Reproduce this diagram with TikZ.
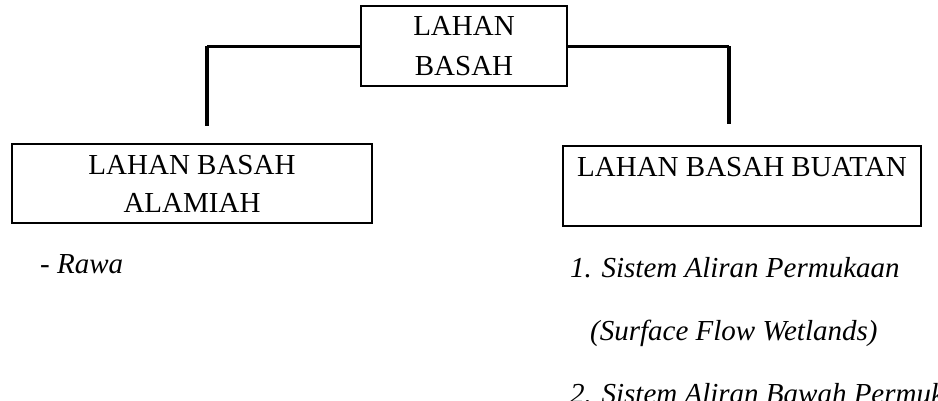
\documentclass[tikz,border=0pt]{standalone}
\usepackage{fontspec}
\setmainfont{Liberation Serif}
\begin{document}
\begin{tikzpicture}[x=1pt,y=-1pt,
  box/.style={draw=black, line width=2.5pt, inner sep=0pt, align=center,
    font=\fontsize{29}{38}\selectfont},
  conn/.style={draw=black, line width=3.5pt},
  item/.style={inner sep=0pt, anchor=base west, font=\fontsize{29}{34}\selectfont\itshape}]
\clip (0,0) rectangle (938,400);
\fill[white] (0,0) rectangle (938,400);
% boxes
\node[box, minimum width=206, minimum height=80, font=\fontsize{29}{40}\selectfont] (top) at (464,46) {LAHAN\\BASAH};
\node[box, minimum width=360, minimum height=79] (left) at (192,183.5) {LAHAN BASAH\\ALAMIAH};
\node[box, minimum width=358, minimum height=80] (right) at (742,186) {LAHAN BASAH BUATAN\\\phantom{X}};
% connector ends
\coordinate (lend) at (207,126);
\coordinate (rend) at (729,124);
\draw[conn, line width=3pt] (top.west) -- (top.west -| lend);
\draw[conn, line width=4pt] (top.west -| lend) -- (lend);
\draw[conn, line width=3pt] (top.east) -- (top.east -| rend);
\draw[conn, line width=4pt] (top.east -| rend) -- (rend);
% items
\node[item] (rawa) at (40,273) {- Rawa};
\node[item] (i1) at (570,277) {1. Sistem Aliran Permukaan};
\node[item] (i1b) at (590,340) {(Surface Flow Wetlands)};
\node[item] (i2) at (570,403) {2. Sistem Aliran Bawah Permukaan};
\end{tikzpicture}
\end{document}
